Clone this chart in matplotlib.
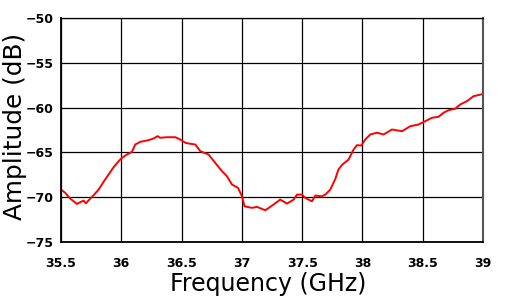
import matplotlib
matplotlib.use('Agg')
import matplotlib.pyplot as plt

# frequency (GHz) and amplitude (dB)
freq = [35.5, 35.536, 35.577, 35.633, 35.666, 35.687, 35.707, 35.743, 35.770, 35.812,
        35.853, 35.895, 35.936, 35.978, 36.006, 36.047, 36.089, 36.116, 36.158, 36.226,
        36.268, 36.301, 36.323, 36.379, 36.448, 36.489, 36.531, 36.572, 36.614, 36.655,
        36.724, 36.779, 36.835, 36.876, 36.918, 36.968, 37.001, 37.022, 37.084, 37.125,
        37.194, 37.250, 37.318, 37.374, 37.429, 37.457, 37.498, 37.526, 37.581, 37.609,
        37.664, 37.692, 37.733, 37.775, 37.800, 37.833, 37.885, 37.926, 37.954, 37.990,
        38.023, 38.065, 38.120, 38.175, 38.245, 38.328, 38.396, 38.465, 38.521, 38.576,
        38.631, 38.672, 38.714, 38.769, 38.811, 38.867, 38.921, 39.0]
amp = [-69.14, -69.51, -70.15, -70.74, -70.51, -70.37, -70.67, -70.15, -69.78, -69.14,
       -68.28, -67.46, -66.65, -65.98, -65.60, -65.23, -64.93, -64.11, -63.81, -63.63,
       -63.44, -63.18, -63.36, -63.30, -63.30, -63.55, -63.92, -64.03, -64.11, -64.86,
       -65.23, -66.16, -67.09, -67.65, -68.58, -68.95, -69.89, -71.01, -71.18, -71.07,
       -71.45, -70.93, -70.26, -70.70, -70.26, -69.70, -69.70, -70.07, -70.45, -69.81,
       -69.89, -69.70, -69.14, -67.94, -66.91, -66.35, -65.79, -64.67, -64.19, -64.22,
       -63.55, -62.99, -62.80, -62.99, -62.44, -62.63, -62.07, -61.88, -61.51, -61.13,
       -61.02, -60.57, -60.28, -60.12, -59.64, -59.27, -58.72, -58.48]

xticks = [35.5, 36, 36.5, 37, 37.5, 38, 38.5, 39]
xtick_labels = ['35.5', '36', '36.5', '37', '37.5', '38', '38.5', '39']
yticks = [-75, -70, -65, -60, -55, -50]

fig = plt.figure(figsize=(5.08, 3.0), dpi=100)
ax = fig.add_axes([0.120, 0.193, 0.831, 0.747])

ax.plot(freq, amp, color='red', linewidth=1.4)

ax.set_xlim(35.5, 39)
ax.set_ylim(-75, -50)
ax.set_xticks(xticks)
ax.set_xticklabels(xtick_labels)
ax.set_yticks(yticks)
ax.grid(True, color='black', linewidth=0.9)
ax.set_axisbelow(True)

for lab in ax.get_xticklabels() + ax.get_yticklabels():
    lab.set_family('DejaVu Sans')
    lab.set_fontweight('bold')
    lab.set_fontsize(9)
ax.tick_params(axis='x', length=0, pad=11)
ax.tick_params(axis='y', length=0, pad=5.5)

for side in ['left', 'bottom']:
    ax.spines[side].set_linewidth(1.3)
ax.spines['right'].set_color('#555555')
ax.spines['right'].set_linewidth(1.5)
ax.spines['top'].set_linewidth(0.9)

ax.set_xlabel('Frequency (GHz)', fontsize=17, family='DejaVu Sans')
ax.set_ylabel('Amplitude (dB)', fontsize=17.8, family='DejaVu Sans')
ax.xaxis.set_label_coords(0.49, -0.135)
ax.yaxis.set_label_coords(-0.081, 0.515)

fig.savefig('out.png', dpi=100)
